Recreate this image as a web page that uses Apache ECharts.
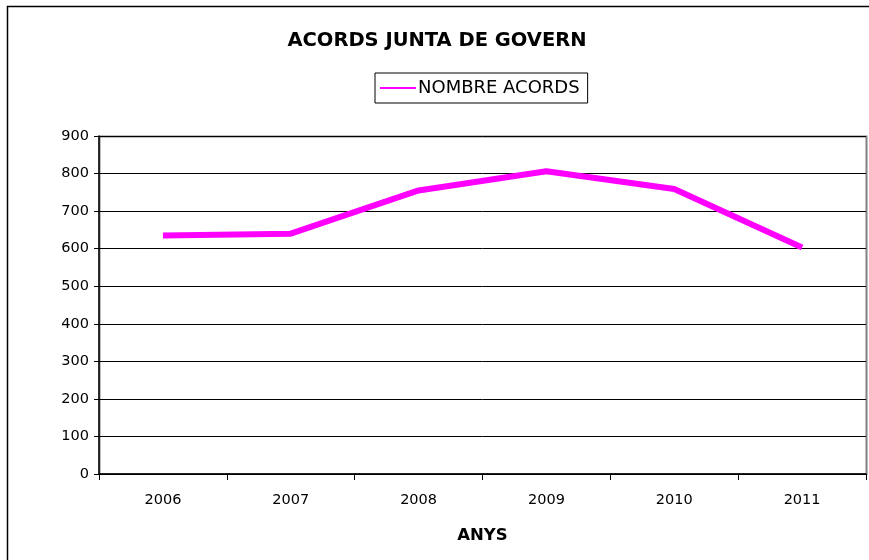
<!DOCTYPE html>
<html>
<head>
<meta charset="utf-8">
<script src="https://cdn.jsdelivr.net/npm/echarts@6/dist/echarts.min.js"></script>
<style>
  html, body { margin: 0; padding: 0; background: #fff; }
  #chart { width: 869px; height: 560px; }
</style>
</head>
<body>
<div id="chart"></div>
<script>
// dades
var years = ['2006', '2007', '2008', '2009', '2010', '2011'];
var acords = [635, 640, 755, 806, 759, 603];
var seriesName = 'NOMBRE ACORDS';

var font = 'DejaVu Sans, Arial, sans-serif';
var myChart = echarts.init(document.getElementById('chart'));
var option = {
  animation: false,
  backgroundColor: '#fff',
  textStyle: { fontFamily: font },
  title: {
    text: 'ACORDS JUNTA DE GOVERN',
    left: 432,
    top: 26,
    textAlign: 'center',
    textStyle: { fontSize: 19.5, fontWeight: 'bold', color: '#000', fontFamily: font }
  },
  legend: {
    data: [seriesName],
    left: 375,
    top: 73,
    padding: [6, 8, 6, 5],
    borderColor: '#000',
    borderWidth: 1,
    itemWidth: 36,
    itemHeight: 2,
    itemGap: 0,
    icon: 'rect',
    textStyle: { fontSize: 18, color: '#000', fontFamily: font, padding: [0, 0, 0, -3] }
  },
  graphic: [{
    type: 'rect',
    shape: { x: 7.5, y: 6.5, width: 900, height: 600 },
    style: { fill: 'none', stroke: '#000', lineWidth: 1.5 },
    silent: true
  }, {
    type: 'rect',
    shape: { x: 99.5, y: 136.5, width: 767, height: 337.5 },
    style: { fill: 'none', stroke: '#808080', lineWidth: 2 },
    silent: true
  }],
  grid: {
    left: 99,
    right: 3,
    top: 136,
    bottom: 86,
    containLabel: false,
    outerBoundsMode: 'none'
  },
  xAxis: {
    type: 'category',
    data: years,
    boundaryGap: true,
    name: 'ANYS',
    nameLocation: 'middle',
    nameGap: 53,
    nameTextStyle: { fontSize: 16.5, fontWeight: 'bold', color: '#000', fontFamily: font },
    axisLine: { lineStyle: { color: '#000', width: 1.5 } },
    axisTick: { show: true, length: 6, alignWithLabel: false, lineStyle: { color: '#000' } },
    axisLabel: { fontSize: 14.5, color: '#000', margin: 19, fontFamily: font },
    splitLine: { show: false }
  },
  yAxis: {
    type: 'value',
    min: 0,
    max: 900,
    interval: 100,
    axisLine: { show: true, lineStyle: { color: '#000', width: 1.5 } },
    axisTick: { show: true, length: 5, lineStyle: { color: '#000' } },
    axisLabel: { fontSize: 14.5, color: '#000', margin: 10, fontFamily: font },
    splitLine: { show: true, lineStyle: { color: '#000', width: 1 } }
  },
  series: [{
    name: seriesName,
    type: 'line',
    data: acords,
    color: '#ff00ff',
    symbol: 'none',
    lineStyle: { color: '#ff00ff', width: 6 }
  }]
};
myChart.setOption(option);
</script>
</body>
</html>
